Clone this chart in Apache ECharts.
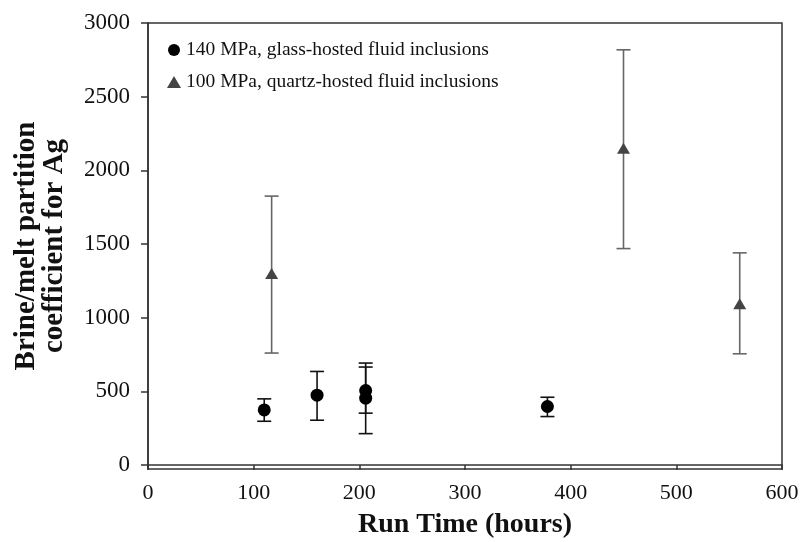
<!DOCTYPE html>
<html>
<head>
<meta charset="utf-8">
<script src="https://cdn.jsdelivr.net/npm/echarts@6/dist/echarts.min.js"></script>
<style>html,body{margin:0;padding:0;background:#fff}#c{width:802px;height:542px}</style>
</head>
<body>
<div id="c"></div>
<script>
// 140 MPa, glass-hosted fluid inclusions: [hours, value, low, high]
const glassX = [110, 160, 206, 206, 378];
const glassY = [374, 474, 505, 454, 397];
const glassLow = [297, 304, 352, 213, 329];
const glassHigh = [449, 635, 665, 692, 460];
// 100 MPa, quartz-hosted fluid inclusions
const quartzX = [117, 450, 560];
const quartzY = [1300, 2150, 1095];
const quartzLow = [760, 1469, 755];
const quartzHigh = [1825, 2818, 1440];
const yTicks = [0, 500, 1000, 1500, 2000, 2500, 3000];
const xTicks = [0, 100, 200, 300, 400, 500, 600];

const serif = '"Liberation Serif", "Times New Roman", serif';

function errSeries(xs, lows, highs, color) {
  const data = xs.map((x, i) => [x, lows[i], highs[i]]);
  return {
    type: 'custom',
    silent: true,
    z: 1,
    data: data,
    encode: { x: 0, y: [1, 2] },
    renderItem: function (params, api) {
      const lo = api.coord([api.value(0), api.value(1)]);
      const hi = api.coord([api.value(0), api.value(2)]);
      const w = 7;
      const st = { stroke: color, lineWidth: 1.6 };
      return {
        type: 'group',
        children: [
          { type: 'line', shape: { x1: lo[0], y1: lo[1], x2: hi[0], y2: hi[1] }, style: st },
          { type: 'line', shape: { x1: lo[0] - w, y1: lo[1], x2: lo[0] + w, y2: lo[1] }, style: st },
          { type: 'line', shape: { x1: hi[0] - w, y1: hi[1], x2: hi[0] + w, y2: hi[1] }, style: st }
        ]
      };
    }
  };
}

const chart = echarts.init(document.getElementById('c'));
chart.setOption({
  animation: false,
  backgroundColor: '#fff',
  grid: { left: 148, right: 20, top: 23, bottom: 73, show: true, borderColor: '#333', borderWidth: 1.5, containLabel: false, outerBoundsMode: 'none' },
  legend: {
    orient: 'vertical',
    left: 162,
    top: 35,
    itemGap: 12,
    itemWidth: 14,
    itemHeight: 12,
    textStyle: { fontFamily: serif, fontSize: 19.5, color: '#111' },
    data: [
      { name: '140 MPa, glass-hosted fluid inclusions', icon: 'circle' },
      { name: '100 MPa, quartz-hosted fluid inclusions', icon: 'triangle' }
    ]
  },
  xAxis: {
    type: 'value',
    min: 0, max: 600, interval: 100,
    name: 'Run Time (hours)',
    nameLocation: 'middle',
    nameGap: 42,
    nameTextStyle: { fontFamily: serif, fontSize: 28, fontWeight: 'bold', color: '#111' },
    axisLine: { show: true, lineStyle: { color: '#333', width: 1.5 } },
    axisTick: { show: true, inside: false, length: 5, lineStyle: { color: '#333', width: 1.5 } },
    axisLabel: { fontFamily: serif, fontSize: 22, color: '#111', margin: 13, customValues: xTicks, formatter: v => String(v) },
    splitLine: { show: false }
  },
  yAxis: {
    type: 'value',
    min: -27, max: 3000,
    name: 'Brine/melt partition\ncoefficient for Ag',
    nameLocation: 'middle',
    nameGap: 79,
    nameRotate: 90,
    nameTextStyle: { fontFamily: serif, fontSize: 29, fontWeight: 'bold', color: '#111', lineHeight: 28 },
    axisLine: { show: true, onZero: false, lineStyle: { color: '#333', width: 1.5 } },
    axisTick: { show: true, length: 7, customValues: yTicks, lineStyle: { color: '#333', width: 1.5 } },
    axisLabel: { fontFamily: serif, fontSize: 23, color: '#111', margin: 18, customValues: yTicks, formatter: v => String(v) },
    splitLine: { show: false }
  },
  series: [
    errSeries(glassX, glassLow, glassHigh, '#111'),
    errSeries(quartzX, quartzLow, quartzHigh, '#666'),
    {
      name: '140 MPa, glass-hosted fluid inclusions',
      type: 'scatter',
      symbol: 'circle',
      symbolSize: 13,
      z: 3,
      itemStyle: { color: '#000', opacity: 1 },
      data: glassX.map((x, i) => [x, glassY[i]])
    },
    {
      name: '100 MPa, quartz-hosted fluid inclusions',
      type: 'scatter',
      symbol: 'triangle',
      symbolSize: [13, 11],
      z: 3,
      itemStyle: { color: '#444', opacity: 1 },
      data: quartzX.map((x, i) => [x, quartzY[i]])
    }
  ]
});
</script>
</body>
</html>
